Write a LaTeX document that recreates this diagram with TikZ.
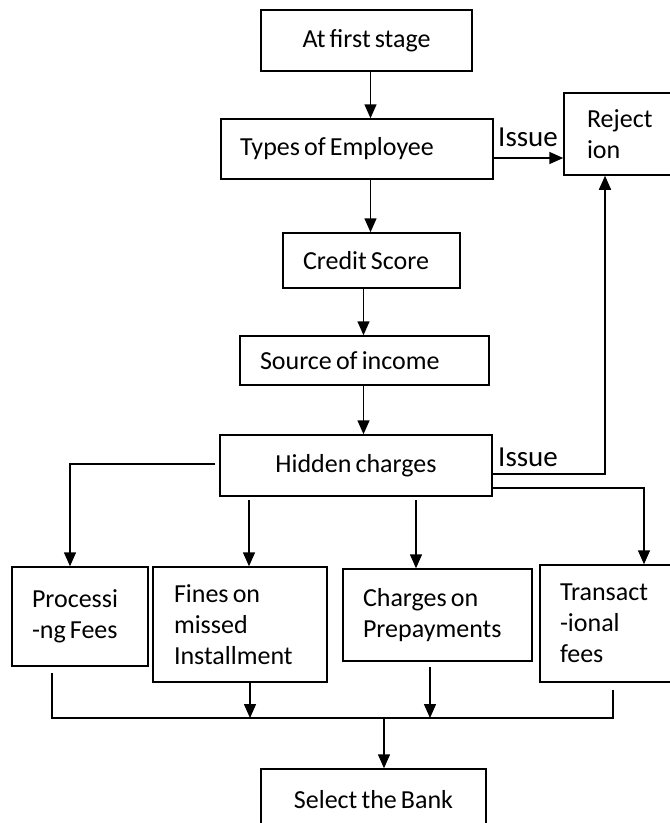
\documentclass[tikz,border=0pt]{standalone}
\usepackage{fontspec}
\setmainfont{Carlito}[WordSpace=0.7]
\usepackage{tikz}
\usetikzlibrary{arrows.meta}

\newcommand{\boxfont}{\fontsize{26}{31}\selectfont}
\newcommand{\issuefont}{\fontsize{29}{34}\selectfont}

\tikzset{
  box/.style={draw, line width=1.5pt, font=\boxfont, inner ysep=0pt},
  lbox/.style={box, align=flush left},
  arr/.style={line width=1.5pt, -{Triangle[length=14pt,width=12pt]}},
  line/.style={line width=1.5pt},
  issue/.style={font=\issuefont, inner sep=0pt, anchor=west}
}

\begin{document}
\begin{tikzpicture}[x=1pt, y=-1pt]
\useasboundingbox (0,0) rectangle (670,823);

% main column
\node[box, minimum width=211pt, minimum height=61pt] (first) at (366.5,40.5) {At first stage};
\node[lbox, text width=234pt, inner xsep=19pt, minimum height=60pt] (types) at (357,149) {Types of Employee};
\node[lbox, text width=137pt, inner xsep=20pt, minimum height=55pt] (credit) at (371.5,260.5) {Credit Score};
\node[lbox, text width=209pt, inner xsep=20pt, minimum height=49pt] (source) at (364.5,360.5) {Source of income};
\node[box, minimum width=272pt, minimum height=61pt] (hidden) at (356,465.5) {Hidden charges};
\node[lbox, text width=70pt, inner xsep=23pt, minimum height=82pt] (reject) at (622,134) {Reject\\ion};

% charges row
\node[lbox, text width=96pt, inner xsep=20pt, minimum height=99pt] (proc) at (80,616.5) {Processi\\-ng Fees};
\node[lbox, text width=132pt, inner xsep=21pt, minimum height=115pt] (fines) at (240,624.5) {Fines on\\missed\\Installment};
\node[lbox, text width=149pt, inner xsep=20pt, minimum height=92pt] (charges) at (437.5,615) {Charges on\\Prepayments};
\node[lbox, text width=100pt, inner xsep=20pt, minimum height=117pt] (trans) at (610,623.5) {Transact\\-ional\\fees};

\node[box, minimum width=225pt, minimum height=61pt] (bank) at (373.5,799.5) {Select the Bank};

% spine
\coordinate (spineA) at (370.5,0);
\coordinate (spineB) at (363.5,0);
\draw[arr] (first.south -| spineA) -- (types.north -| spineA);
\draw[arr] (types.south -| spineA) -- (credit.north -| spineA);
\draw[arr] (credit.south -| spineB) -- (source.north -| spineB);
\draw[arr] (source.south -| spineB) -- (hidden.north -| spineB);

% issues
\coordinate (issA) at (0,158);
\draw[arr] (types.east |- issA) -- (reject.west |- issA);
\node[issue] (issueA) at (498,137) {Issue};
\coordinate (issB) at (605,474);
\draw[arr] (hidden.east |- issB) -| (reject.south -| issB);
\node[issue] (issueB) at (498,457) {Issue};

% branches
\coordinate (brP) at (70,464);
\coordinate (brF) at (249,0);
\coordinate (brC) at (416,0);
\coordinate (brT) at (644,488);
\draw[arr, shorten <=4pt] (hidden.west |- brP) -| (proc.north -| brP);
\draw[arr, shorten <=3pt] (hidden.south -| brF) -- (fines.north -| brF);
\draw[arr, shorten <=3pt] (hidden.south -| brC) -- (charges.north -| brC);
\draw[arr] (hidden.east |- brT) -| (trans.north -| brT);

% bus
\coordinate (busL) at (52,718);
\coordinate (busR) at (613,718);
\coordinate (busF) at (250,718);
\coordinate (busC) at (430,718);
\coordinate (busM) at (384,718);
\draw[line] (proc.south -| busL) ++(0,6) -- (busL) -- (busR) -- ([yshift=-7pt]trans.south -| busR);
\draw[arr] (fines.south -| busF) -- (busF);
\draw[arr, shorten <=5pt] (charges.south -| busC) -- (busC);
\draw[arr] (busM) -- (bank.north -| busM);

\end{tikzpicture}
\end{document}
